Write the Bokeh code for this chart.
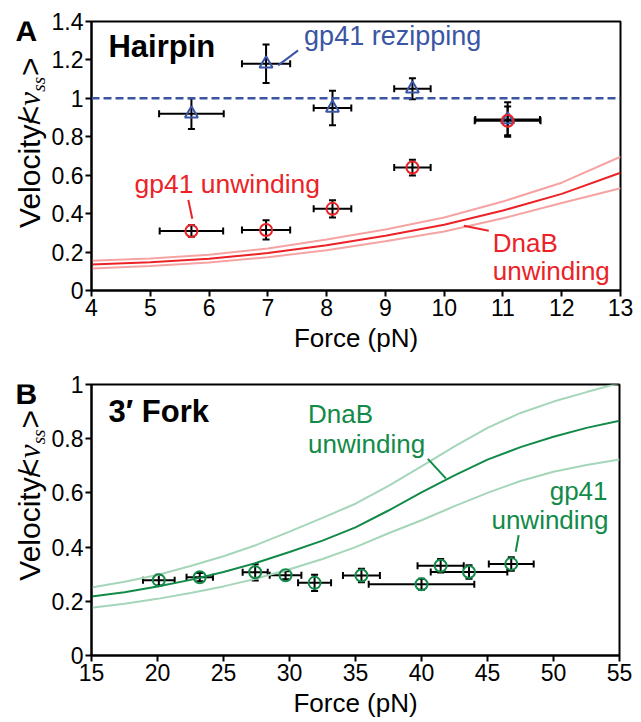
import math
from bokeh.plotting import figure
from bokeh.layouts import column, row
from bokeh.models import ColumnDataSource, Whisker, TeeHead, Span, Label, FixedTicker
from bokeh.embed import file_html
from bokeh.resources import INLINE

# ---------------- Panel A: Hairpin ----------------
hp_xticks = [4, 5, 6, 7, 8, 9, 10, 11, 12, 13]
hp_yticks = [0, 0.2, 0.4, 0.6, 0.8, 1.0, 1.2, 1.4]
hp_ylabels = ["0", "0.2", "0.4", "0.6", "0.8", "1", "1.2", "1.4"]

rezip_force = [5.70, 6.97, 8.10, 9.46, 11.08]
rezip_force_err = [0.55, 0.41, 0.32, 0.31, 0.55]
rezip_vel = [0.92, 1.18, 0.95, 1.05, 0.89]
rezip_vel_err = [0.08, 0.10, 0.09, 0.055, 0.09]

unw_force = [5.70, 6.97, 8.10, 9.46, 11.08]
unw_force_err = [0.54, 0.41, 0.32, 0.31, 0.56]
unw_vel = [0.31, 0.315, 0.425, 0.64, 0.883]
unw_vel_err = [0.03, 0.05, 0.045, 0.041, 0.075]

rezip_level = 1.0

dnab_hp_force = [4, 5, 6, 7, 8, 9, 10, 11, 12, 13]
dnab_hp_mid = [0.135, 0.147, 0.165, 0.195, 0.235, 0.285, 0.342, 0.416, 0.503, 0.613]
dnab_hp_hi = [0.155, 0.166, 0.186, 0.218, 0.265, 0.318, 0.380, 0.463, 0.561, 0.696]
dnab_hp_lo = [0.115, 0.128, 0.146, 0.173, 0.210, 0.256, 0.307, 0.376, 0.455, 0.532]

# ---------------- Panel B: 3' Fork ----------------
fk_xticks = [15, 20, 25, 30, 35, 40, 45, 50, 55]
fk_yticks = [0, 0.2, 0.4, 0.6, 0.8, 1.0]
fk_ylabels = ["0", "0.2", "0.4", "0.6", "0.8", "1"]

fork_force = [20.1, 23.2, 27.4, 29.7, 31.9, 35.45, 40.0, 41.45, 43.6, 46.8]
fork_force_err = [1.2, 1.0, 0.95, 1.2, 1.25, 1.4, 4.0, 1.75, 2.9, 1.7]
fork_vel = [0.278, 0.289, 0.307, 0.296, 0.268, 0.295, 0.263, 0.331, 0.308, 0.338]
fork_vel_err = [0.02, 0.015, 0.03, 0.015, 0.03, 0.025, 0.02, 0.025, 0.025, 0.025]

dnab_fk_force = [15, 17.5, 20, 22.5, 25, 27.5, 30, 32.5, 35, 37.5, 40, 42.5, 45, 47.5, 50, 52.5, 55]
dnab_fk_mid = [0.218, 0.233, 0.255, 0.279, 0.308, 0.342, 0.382, 0.424, 0.473, 0.535, 0.602, 0.665, 0.723, 0.769, 0.807, 0.840, 0.866]
dnab_fk_hi = [0.251, 0.272, 0.297, 0.330, 0.366, 0.408, 0.457, 0.508, 0.560, 0.626, 0.698, 0.772, 0.840, 0.895, 0.937, 0.972, 1.005]
dnab_fk_lo = [0.176, 0.191, 0.209, 0.231, 0.255, 0.284, 0.318, 0.356, 0.400, 0.451, 0.499, 0.551, 0.600, 0.644, 0.678, 0.703, 0.723]

BLUE = "#3b55a5"
RED = "#ec2227"
LRED = "#f5a3a3"
GREEN = "#128a48"
LGREEN = "#a5d6ba"
FONT = "Liberation Sans"

LABW = 48          # width of the strip holding panel letter and y title
MAINW = 590        # width of each chart figure
HA, HB = 355, 365  # heights of the two rows
TOP_A, TOP_B = 21, 384 - HA   # top borders of the chart frames


def style(p, xticks, yticks, ylabels):
    p.xaxis.ticker = FixedTicker(ticks=xticks)
    p.yaxis.ticker = FixedTicker(ticks=yticks)
    p.yaxis.major_label_overrides = {t: l for t, l in zip(yticks, ylabels)}
    p.xgrid.visible = False
    p.ygrid.visible = False
    p.outline_line_color = "black"
    p.outline_line_width = 2
    p.outline_line_alpha = 1
    for ax in (p.xaxis, p.yaxis):
        ax.axis_line_width = 2
        ax.major_tick_line_width = 2
        ax.major_tick_out = 6
        ax.major_tick_in = 0
        ax.minor_tick_out = 0
        ax.minor_tick_in = 0
        ax.major_label_text_font = FONT
        ax.major_label_text_font_size = "23px"
        ax.major_label_text_color = "black"
        ax.major_label_standoff = 2
    p.xaxis.axis_label = "Force (pN)"
    p.xaxis.axis_label_text_font = FONT
    p.xaxis.axis_label_text_font_size = "26px"
    p.xaxis.axis_label_text_font_style = "normal"
    p.xaxis.axis_label_text_color = "black"
    p.xaxis.axis_label_standoff = 4


def errbars(p, xs, xe, ys, ye):
    src = ColumnDataSource(dict(
        x=xs, y=ys,
        xl=[a - b for a, b in zip(xs, xe)], xu=[a + b for a, b in zip(xs, xe)],
        yl=[a - b for a, b in zip(ys, ye)], yu=[a + b for a, b in zip(ys, ye)]))
    for dim, base, lo, up in (("width", "y", "xl", "xu"), ("height", "x", "yl", "yu")):
        w = Whisker(source=src, base=base, lower=lo, upper=up, dimension=dim,
                    line_color="black", line_width=2,
                    lower_head=TeeHead(size=7, line_width=2, line_color="black"),
                    upper_head=TeeHead(size=7, line_width=2, line_color="black"))
        p.add_layout(w)


def lab(p, x, y, text, size, color="black", style_="normal", align="left",
        angle=0.0, font=FONT, baseline="middle"):
    p.add_layout(Label(x=x, y=y, text=text, text_font=font,
                       text_font_size=f"{size}px", text_color=color,
                       text_font_style=style_, text_align=align,
                       text_baseline=baseline, angle=angle))


def seg(p, x0, y0, x1, y1, color):
    p.line([x0, x1], [y0, y1], line_color=color, line_width=2)


def mid(base_py, size):
    """page-pixel y of the text middle from its baseline"""
    return base_py - 0.35 * size


def side_strip(height, top, tb, letter, letter_base, ystart):
    """Narrow figure left of a chart: panel letter and rotated y title.
    Its frame runs from tb (same as the chart's frame top) to the bottom;
    positions are given in page pixels."""
    s = figure(width=LABW, height=height, x_range=(0, LABW),
               y_range=(0, height - tb), output_backend="svg", title=None,
               toolbar_location=None, min_border=0, min_border_top=tb,
               x_axis_type=None, y_axis_type=None)
    s.outline_line_color = None
    s.xgrid.visible = False
    s.ygrid.visible = False
    fy = lambda py: height - (py - top)
    # keep the letter inside the frame so it is not clipped
    ly = max(mid(letter_base, 30), top + tb + 11.5)
    lab(s, 15, fy(ly), letter, 30, style_="bold")
    a = math.pi / 2
    pieces = [("Velocity/", 30, "normal", FONT, 29, 57),
              ("<", 32, "normal", FONT, 29, 128),
              ("ν", 31, "italic", "Liberation Serif", 29, 148),
              ("ss", 19, "italic", "Liberation Serif", 38, 166),
              (">", 32, "normal", FONT, 29, 188)]
    for txt, size, st, fnt, cx, dy in pieces:
        lab(s, cx, fy(ystart - dy), txt, size, style_=st, angle=a, font=fnt,
            align="center")
    return s


# ------------- Figure A -------------
pA = figure(width=MAINW, height=HA, x_range=(4, 13), y_range=(0, 1.4),
            output_backend="svg", toolbar_location=None, title=None,
            min_border_left=90 - LABW, min_border_right=LABW + MAINW - 620,
            min_border_top=TOP_A, min_border_bottom=HA - 291)
style(pA, hp_xticks, hp_yticks, hp_ylabels)

fxA = lambda px: 4 + (px - 90) / (530 / 9)
fyA = lambda py: (291 - py) / (270 / 1.4)

pA.line(dnab_hp_force, dnab_hp_hi, line_color=LRED, line_width=2)
pA.line(dnab_hp_force, dnab_hp_lo, line_color=LRED, line_width=2)
pA.line(dnab_hp_force, dnab_hp_mid, line_color=RED, line_width=2)

pA.add_layout(Span(location=rezip_level, dimension="width", line_color=BLUE,
                   line_width=2.5, line_dash="8 4"))

errbars(pA, rezip_force, rezip_force_err, rezip_vel, rezip_vel_err)
errbars(pA, unw_force, unw_force_err, unw_vel, unw_vel_err)
pA.scatter(rezip_force, rezip_vel, marker="triangle", size=13, fill_color=None,
           line_color=BLUE, line_width=2)
pA.scatter(unw_force, unw_vel, marker="circle", size=12, fill_color=None,
           line_color=RED, line_width=2)

lab(pA, fxA(107), fyA(mid(57, 31)), "Hairpin", 31, style_="bold")
lab(pA, fxA(303), fyA(mid(45, 27)), "gp41 rezipping", 27, color=BLUE)
seg(pA, fxA(277), fyA(65), fxA(297), fyA(50), BLUE)
lab(pA, fxA(133), fyA(mid(193, 26.5)), "gp41 unwinding", 26.5, color=RED)
seg(pA, fxA(187), fyA(200), fxA(191), fyA(219), RED)
lab(pA, fxA(492), fyA(mid(252, 26)), "DnaB", 26, color=RED)
lab(pA, fxA(492), fyA(mid(281, 26)), "unwinding", 26, color=RED)
seg(pA, fxA(463), fyA(226), fxA(488), fyA(231), RED)

sA = side_strip(HA, 0, TOP_A, "A", 35, 265)

# ------------- Figure B -------------
pB = figure(width=MAINW, height=HB, x_range=(15, 55), y_range=(0, 1),
            output_backend="svg", toolbar_location=None, title=None,
            min_border_left=90 - LABW, min_border_right=LABW + MAINW - 619,
            min_border_top=TOP_B, min_border_bottom=HA + HB - 661)
style(pB, fk_xticks, fk_yticks, fk_ylabels)

fxB = lambda px: 15 + (px - 90) / (529 / 40)
fyB = lambda py: (661 - py) / 277

pB.line(dnab_fk_force, dnab_fk_hi, line_color=LGREEN, line_width=2)
pB.line(dnab_fk_force, dnab_fk_lo, line_color=LGREEN, line_width=2)
pB.line(dnab_fk_force, dnab_fk_mid, line_color=GREEN, line_width=2)

errbars(pB, fork_force, fork_force_err, fork_vel, fork_vel_err)
pB.scatter(fork_force, fork_vel, marker="circle", size=12, fill_color=None,
           line_color=GREEN, line_width=2)

lab(pB, fxB(107), fyB(mid(422, 31)), "3′ Fork", 31, style_="bold")
lab(pB, fxB(307), fyB(mid(423, 26)), "DnaB", 26, color=GREEN)
lab(pB, fxB(307), fyB(mid(454, 26)), "unwinding", 26, color=GREEN)
seg(pB, fxB(427), fyB(460), fxB(445), fyB(480), GREEN)
lab(pB, fxB(607), fyB(mid(502, 26)), "gp41", 26, color=GREEN, align="right")
lab(pB, fxB(608), fyB(mid(532, 26)), "unwinding", 26, color=GREEN, align="right")
seg(pB, fxB(518), fyB(538), fxB(515), fyB(555), GREEN)

sB = side_strip(HB, HA, TOP_B, "B", 400, 615)

layout = column(row(sA, pA), row(sB, pB))
open("out.html", "w").write(file_html(layout, INLINE))
